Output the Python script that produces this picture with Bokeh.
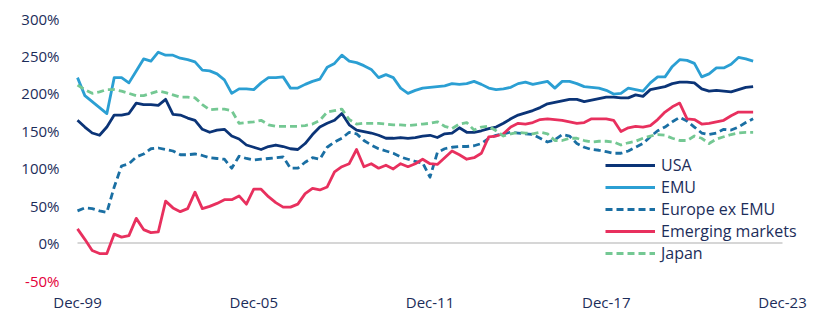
from bokeh.plotting import figure
from bokeh.models import FixedTicker, Legend, LegendItem
from bokeh.core.properties import value
from bokeh.embed import file_html
from bokeh.resources import INLINE

# Quarterly observations, Dec-1999 .. Dec-2022 (values in %)
USA = [164, 155, 147, 144, 155, 171, 171, 173, 187, 185, 185, 184, 192, 172, 171, 167,
       164, 152, 148, 151, 152, 143, 139, 131, 128, 125, 129, 131, 129, 126, 125, 133,
       145, 155, 160, 164, 173, 158, 151, 149, 147, 144, 140, 140, 141, 140, 141, 143,
       144, 141, 146, 147, 154, 148, 148, 150, 153, 155, 160, 166, 171, 174, 177, 181,
       186, 188, 190, 192, 192, 189, 191, 193, 195, 195, 194, 194, 198, 196, 205, 207,
       209, 213, 215, 215, 214, 206, 203, 204, 203, 202, 205, 208, 209]
EMU = [221, 197, 189, 181, 173, 221, 221, 214, 230, 246, 243, 255, 251, 251, 247, 245,
       242, 231, 230, 226, 218, 200, 206, 206, 205, 214, 221, 221, 222, 207, 207, 212,
       216, 219, 235, 240, 251, 243, 241, 237, 232, 221, 225, 221, 207, 200, 204, 207,
       208, 209, 210, 213, 212, 213, 216, 212, 207, 205, 206, 208, 213, 215, 212, 214,
       216, 207, 216, 216, 213, 209, 208, 207, 204, 199, 200, 207, 205, 203, 214, 222,
       222, 236, 245, 244, 240, 222, 226, 234, 234, 239, 248, 246, 243]
EUROPE_EX_EMU = [43, 47, 46, 43, 41, 75, 103, 106, 115, 119, 126, 127, 125, 123, 118, 118,
                 119, 117, 114, 113, 112, 100, 116, 113, 111, 112, 113, 114, 115, 100, 100, 108,
                 114, 112, 128, 135, 140, 148, 146, 137, 131, 126, 123, 120, 115, 112, 109, 107,
                 88, 121, 126, 128, 129, 129, 130, 133, 140, 144, 146, 148, 147, 146, 145, 140,
                 135, 138, 145, 143, 133, 128, 125, 124, 122, 120, 120, 123, 128, 133, 142, 150,
                 155, 162, 168, 163, 155, 147, 145, 147, 152, 151, 155, 161, 166]
EMERGING = [19, 5, -10, -14, -14, 12, 8, 10, 33, 18, 14, 15, 56, 47, 42, 46,
            68, 46, 49, 53, 58, 58, 63, 52, 72, 72, 62, 54, 48, 48, 52, 66,
            73, 71, 75, 95, 102, 106, 125, 102, 106, 100, 104, 99, 106, 102, 106, 112,
            106, 105, 114, 123, 118, 112, 114, 120, 142, 143, 146, 155, 160, 159, 161, 165,
            166, 165, 164, 162, 160, 161, 166, 166, 166, 164, 149, 154, 156, 155, 157, 165,
            175, 182, 187, 166, 165, 159, 160, 162, 164, 170, 175, 175, 175]
JAPAN = [211, 205, 200, 202, 205, 205, 203, 200, 197, 197, 200, 203, 201, 198, 195, 195,
         194, 185, 178, 179, 179, 177, 160, 161, 162, 164, 158, 156, 156, 156, 156, 157,
         159, 164, 175, 177, 179, 165, 159, 160, 160, 160, 159, 158, 158, 157, 158, 159,
         160, 162, 156, 153, 159, 161, 151, 155, 156, 150, 143, 146, 148, 147, 146, 148,
         146, 137, 137, 140, 140, 137, 135, 136, 136, 135, 131, 134, 136, 140, 143, 145,
         144, 140, 137, 137, 143, 140, 133, 139, 142, 145, 147, 148, 148]

SERIES_NAMES = ["USA", "EMU", "Europe ex EMU", "Emerging markets", "Japan"]
X_TICKS = [0, 24, 48, 72, 96]          # quarters since Dec-99
X_TICK_LABELS = ["Dec-99", "Dec-05", "Dec-11", "Dec-17", "Dec-23"]
Y_TICKS = [-50, 0, 50, 100, 150, 200, 250, 300]
Y_TICK_LABELS = ["-50%", "0%", "50%", "100%", "150%", "200%", "250%", "300%"]

NAVY_TEXT = "#1c2d5a"
RED_TEXT = "#e4003a"
FONT = "Open Sans"

styles = [
    dict(color="#0b3477", dash="solid"),
    dict(color="#2b9fd3", dash="solid"),
    dict(color="#1a6fa3", dash="7 4"),
    dict(color="#e8305e", dash="solid"),
    dict(color="#74c893", dash="7 4"),
]

# frame spans the full width; data 0..96 maps to pixels 77..782
PX_PER_Q = (782 - 77) / 96.0
x_start = -77 / PX_PER_Q
x_end = 96 + (821 - 782) / PX_PER_Q
# vertical: 300 at y=18, -50 at y=280; frame from y=0 to y=288
PX_PER_PCT = (280 - 18) / 350.0
BOTTOM_BORDER = 33
y_end = 300 + 18 / PX_PER_PCT
y_start = -50 - ((321 - BOTTOM_BORDER) - 280) / PX_PER_PCT

p = figure(width=821, height=321, output_backend="svg", toolbar_location=None,
           x_range=(x_start, x_end), y_range=(y_start, y_end),
           min_border_left=0, min_border_right=0, min_border_top=0,
           min_border_bottom=BOTTOM_BORDER)
p.outline_line_color = None
p.xgrid.visible = False
p.ygrid.visible = False
p.yaxis.visible = False
p.background_fill_color = "white"

# zero baseline across the axis span
p.segment(x0=[X_TICKS[0]], y0=[0], x1=[X_TICKS[-1]], y1=[0],
          line_color="#c9c9c9", line_width=1.5)

data = [USA, EMU, EUROPE_EX_EMU, EMERGING, JAPAN]
items = []
for name, vals, st in zip(SERIES_NAMES, data, styles):
    xs = list(range(len(vals)))
    r = p.line(xs, vals, line_color=st["color"], line_width=2.8, line_dash=st["dash"],
               line_join="round")
    items.append(LegendItem(label=name, renderers=[r]))

legend = Legend(items=items, location=(605, 24), padding=0, margin=0, spacing=0,
                glyph_width=50, glyph_height=22, label_height=22, label_standoff=6,
                label_text_font=FONT, label_text_font_size="16px",
                label_text_color=NAVY_TEXT, background_fill_alpha=0,
                border_line_color=None)
p.add_layout(legend)

# y tick labels drawn as text at the left of the axis start
label_colors = [RED_TEXT if t < 0 else NAVY_TEXT for t in Y_TICKS]
p.text(x=[X_TICKS[0]] * len(Y_TICKS), y=Y_TICKS, text=Y_TICK_LABELS,
       text_color=label_colors, x_offset=-18, text_align="right",
       text_baseline="middle", text_font=value(FONT), text_font_size="15px")

xa = p.xaxis[0]
xa.axis_line_color = None
xa.major_tick_line_color = None
xa.minor_tick_line_color = None
xa.major_tick_out = 0
xa.major_tick_in = 0
xa.major_label_text_font = FONT
xa.major_label_text_font_size = "15px"
xa.major_label_text_color = NAVY_TEXT
xa.ticker = FixedTicker(ticks=X_TICKS)
xa.major_label_overrides = {t: l for t, l in zip(X_TICKS, X_TICK_LABELS)}
xa.major_label_standoff = 3

open("out.html", "w").write(file_html(p, INLINE))
